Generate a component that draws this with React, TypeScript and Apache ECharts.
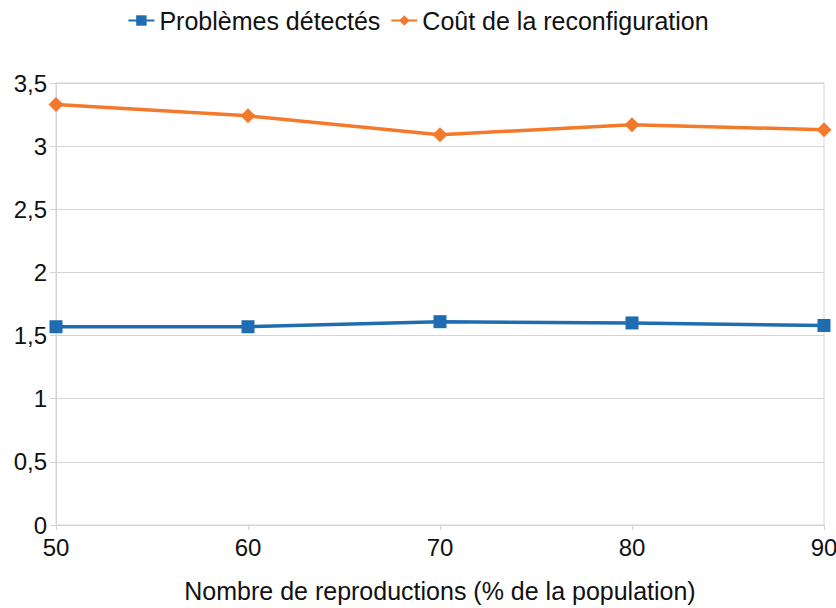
import React, { useEffect, useRef } from "react";
import * as echarts from "echarts";

const xValues = [50, 60, 70, 80, 90];
const problemes = [1.57, 1.57, 1.61, 1.60, 1.58];
const cout = [3.33, 3.24, 3.09, 3.17, 3.13];
const seriesNames = ["Problèmes détectés", "Coût de la reconfiguration"];
const xAxisName = "Nombre de reproductions (% de la population)";

const fmt = (v: number) => String(v).replace(".", ",");

export default function App() {
  const ref = useRef<HTMLDivElement>(null);
  useEffect(() => {
    const chart = echarts.init(ref.current!, null, { renderer: "svg" });
    const font = "'Liberation Sans', Arial, sans-serif";
    chart.setOption({
      animation: false,
      backgroundColor: "#ffffff",
      textStyle: { fontFamily: font },
      legend: {
        top: 3,
        left: "center",
        itemWidth: 26,
        itemHeight: 13,
        itemGap: 10,
        textStyle: { fontSize: 25, color: "#111", fontFamily: font },
        data: seriesNames,
      },
      grid: {
        left: 56,
        right: 12,
        top: 83,
        bottom: 83,
        show: true,
        borderColor: "#d4d4d4",
        borderWidth: 1,
        outerBoundsMode: "none",
        containLabel: false,
      },
      xAxis: {
        type: "value",
        min: 50,
        max: 90,
        interval: 10,
        name: xAxisName,
        nameLocation: "middle",
        nameGap: 53,
        nameTextStyle: { fontSize: 25, color: "#111", fontFamily: font },
        axisLine: { show: true, lineStyle: { color: "#d4d4d4" } },
        axisTick: { show: true, length: 5, lineStyle: { color: "#d4d4d4" } },
        splitLine: { show: false },
        axisLabel: { fontSize: 24, color: "#111", margin: 10, fontFamily: font },
      },
      yAxis: {
        type: "value",
        min: 0,
        max: 3.5,
        interval: 0.5,
        axisLine: { show: true, lineStyle: { color: "#d4d4d4" } },
        axisTick: { show: true, length: 6, lineStyle: { color: "#d4d4d4" } },
        splitLine: { show: true, lineStyle: { color: "#d4d4d4" } },
        axisLabel: {
          fontSize: 24,
          color: "#111",
          margin: 9,
          fontFamily: font,
          formatter: (v: number) => fmt(v),
        },
      },
      series: [
        {
          name: seriesNames[0],
          type: "line",
          data: xValues.map((x, i) => [x, problemes[i]]),
          symbol: "rect",
          symbolSize: 13,
          lineStyle: { width: 3.5, color: "#1f6cb0" },
          itemStyle: { color: "#1f6cb0" },
        },
        {
          name: seriesNames[1],
          type: "line",
          data: xValues.map((x, i) => [x, cout[i]]),
          symbol: "diamond",
          symbolSize: 15,
          lineStyle: { width: 3.5, color: "#f5792a" },
          itemStyle: { color: "#f5792a" },
        },
      ],
    });
    return () => chart.dispose();
  }, []);
  return <div ref={ref} style={{ width: 836, height: 608, position: "absolute", left: 0, top: 0 }} />;
}
